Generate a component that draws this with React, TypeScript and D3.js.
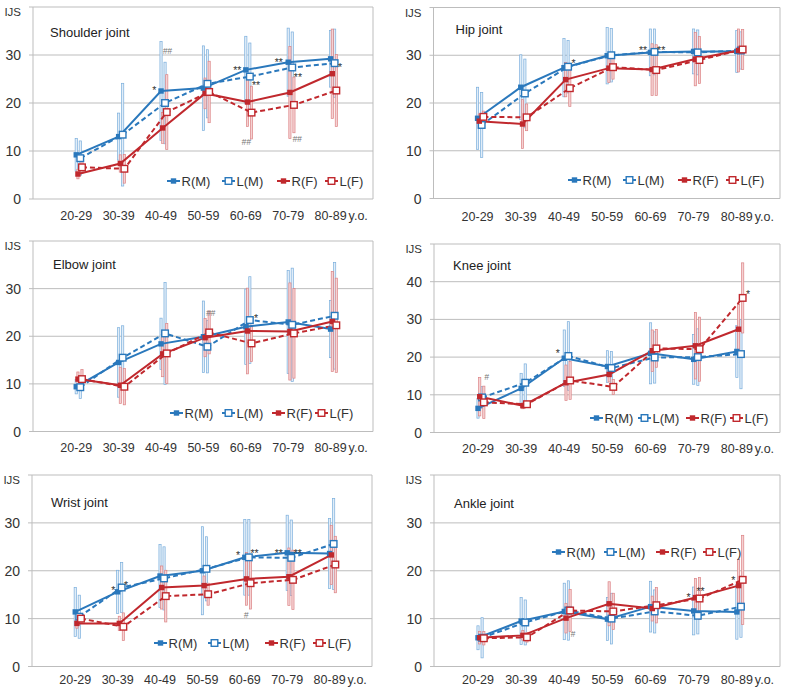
import React from "react";
import * as d3 from "d3";

const categories = ["20-29", "30-39", "40-49", "50-59", "60-69", "70-79", "80-89"];
const seriesNames = ["R(M)", "L(M)", "R(F)", "L(F)"];
const yUnitLabel = "IJS";
const ageSuffix = "y.o.";

// order: R(M), L(M), R(F), L(F)
const shoulderMeans = [
  [9.2, 13.0, 22.5, 23.1, 26.9, 28.5, 29.2],
  [8.5, 13.4, 20.0, 24.0, 25.5, 27.4, 28.3],
  [5.2, 7.4, 14.8, 22.0, 20.2, 22.2, 26.1],
  [6.6, 6.3, 18.1, 22.3, 18.0, 19.6, 22.6],
];
const shoulderSD = [
  [3.4, 4.9, 10.3, 8.8, 7.0, 7.1, 5.9],
  [3.6, 10.7, 8.5, 7.1, 7.0, 7.4, 7.1],
  [1.0, 1.8, 3.2, 3.2, 5.1, 9.6, 9.3],
  [1.2, 3.0, 7.8, 6.4, 5.5, 5.8, 7.5],
];
const hipMeans = [
  [16.8, 23.3, 27.4, 29.9, 30.6, 30.8, 30.8],
  [15.4, 22.0, 27.6, 30.0, 30.7, 30.6, 31.0],
  [16.2, 15.6, 24.9, 27.3, 27.0, 29.2, 31.0],
  [17.1, 17.0, 23.1, 27.5, 26.9, 29.0, 31.2],
];
const hipSD = [
  [6.5, 6.8, 6.1, 5.9, 4.9, 4.7, 4.4],
  [6.8, 7.2, 5.5, 5.6, 4.8, 4.7, 3.9],
  [1.5, 5.1, 3.6, 3.0, 5.4, 5.6, 4.5],
  [1.2, 2.8, 3.8, 2.5, 5.3, 4.9, 4.2],
];
const elbowMeans = [
  [9.4, 14.5, 18.4, 19.9, 22.0, 23.0, 21.5],
  [9.3, 15.5, 20.6, 17.8, 23.4, 22.4, 24.3],
  [11.0, 9.7, 16.3, 19.7, 21.1, 21.0, 23.1],
  [11.0, 9.4, 16.4, 20.8, 18.5, 20.6, 22.3],
];
const elbowSD = [
  [1.5, 7.3, 5.4, 7.5, 7.9, 10.8, 6.0],
  [2.4, 6.7, 10.7, 5.5, 9.1, 11.9, 11.2],
  [1.5, 3.8, 4.8, 4.0, 9.0, 10.2, 10.5],
  [2.0, 3.8, 6.3, 4.5, 3.8, 9.4, 9.9],
];
const kneeMeans = [
  [6.4, 11.7, 19.7, 17.5, 21.0, 19.4, 21.5],
  [9.3, 13.2, 20.3, 17.1, 19.9, 20.0, 20.8],
  [9.5, 7.1, 13.2, 15.4, 21.7, 23.0, 27.4],
  [8.0, 7.5, 13.8, 12.1, 22.3, 22.1, 35.7],
];
const kneeSD = [
  [2.6, 4.0, 7.5, 4.2, 8.1, 6.6, 6.9],
  [2.9, 5.0, 9.1, 4.4, 6.8, 7.5, 9.2],
  [5.1, 0.8, 4.7, 2.0, 5.5, 8.8, 6.6],
  [4.3, 0.8, 5.0, 2.0, 5.0, 8.5, 9.3],
];
const wristMeans = [
  [11.4, 15.6, 18.9, 20.0, 22.8, 23.75, 23.6],
  [10.4, 16.5, 18.4, 20.4, 22.8, 22.7, 25.6],
  [9.0, 9.0, 16.5, 16.9, 18.3, 18.75, 23.3],
  [10.0, 8.3, 14.7, 15.1, 17.4, 18.1, 21.3],
];
const wristSD = [
  [5.1, 4.5, 6.6, 9.2, 7.9, 7.85, 7.3],
  [4.5, 5.2, 6.6, 6.7, 7.9, 7.9, 9.5],
  [1.0, 1.5, 4.5, 2.0, 5.5, 6.0, 6.2],
  [1.0, 2.9, 5.4, 2.3, 5.4, 6.2, 5.9],
];
const ankleMeans = [
  [6.0, 9.5, 11.5, 9.9, 12.5, 11.6, 11.4],
  [6.0, 9.2, 11.7, 10.0, 11.5, 10.6, 12.5],
  [6.0, 6.5, 10.1, 13.1, 12.1, 14.4, 16.9],
  [5.9, 6.1, 11.7, 11.5, 12.8, 14.2, 18.1],
];
const ankleSD = [
  [2.5, 4.9, 5.9, 4.5, 5.3, 5.0, 5.7],
  [4.2, 4.7, 6.2, 5.3, 4.5, 3.8, 6.4],
  [1.3, 1.0, 3.1, 4.6, 2.6, 4.0, 5.5],
  [1.4, 1.0, 4.4, 3.8, 3.7, 4.4, 9.3],
];

// significance marks: [category position, IJS value, text]
const shoulderNotes: [number, number, string][] = [
  [1.84, 23.1, "*"], [2.15, 30.8, "##"], [3.8, 27.3, "**"], [4.24, 24.2, "**"],
  [4.01, 11.9, "##"], [4.78, 29.0, "**"], [5.23, 25.8, "**"], [5.21, 12.5, "##"], [6.22, 27.9, "*"],
];
const hipNotes: [number, number, string][] = [
  [2.22, 28.7, "*"], [3.83, 31.6, "**"], [4.25, 31.6, "**"],
];
const elbowNotes: [number, number, string][] = [
  [3.17, 24.9, "##"], [4.24, 24.2, "*"],
];
const kneeNotes: [number, number, string][] = [
  [0.2, 14.8, "#"], [1.85, 21.7, "*"], [6.26, 37.3, "*"],
];
const wristNotes: [number, number, string][] = [
  [0.9, 16.5, "*"], [1.2, 17.5, "*"], [3.84, 23.8, "*"], [4.23, 24.1, "**"],
  [4.8, 24.1, "**"], [5.25, 24.1, "**"], [4.03, 10.7, "#"],
];
const ankleNotes: [number, number, string][] = [
  [2.2, 6.8, "#"], [4.88, 15.0, "*"], [5.16, 16.1, "**"], [5.92, 18.4, "*"],
];

const BLUE = "#2a78bc";
const RED = "#c0282d";
const seriesStyle = [
  { color: BLUE, dash: null, filled: true, off: 0, errStroke: "#7aaedc", errFill: "#e1edf8" },
  { color: BLUE, dash: "5,3", filled: false, off: 0.095, errStroke: "#7aaedc", errFill: "#e1edf8" },
  { color: RED, dash: null, filled: true, off: 0.04, errStroke: "#dc8385", errFill: "#f5d2d3" },
  { color: RED, dash: "5,3", filled: false, off: 0.135, errStroke: "#dc8385", errFill: "#f5d2d3" },
];

const panels = [
  { title: "Shoulder joint", means: shoulderMeans, sds: shoulderSD, notes: shoulderNotes, yMax: 40,
    left: 33, right: 373, top: 7, bottom: 199, tdx: 17, tdy: 30, labelDy: 21, legendY: 181, legendXs: [167, 222, 277, 325] },
  { title: "Hip joint", means: hipMeans, sds: hipSD, notes: hipNotes, yMax: 40,
    left: 433.5, right: 780, top: 7.5, bottom: 198.5, tdx: 22, tdy: 26, labelDy: 22, legendY: 180, legendXs: [568, 623, 678, 726] },
  { title: "Elbow joint", means: elbowMeans, sds: elbowSD, notes: elbowNotes, yMax: 40,
    left: 33, right: 373, top: 241, bottom: 431.5, tdx: 20, tdy: 28, labelDy: 20, legendY: 413, legendXs: [170, 222, 272, 315] },
  { title: "Knee joint", means: kneeMeans, sds: kneeSD, notes: kneeNotes, yMax: 50,
    left: 434, right: 780, top: 244, bottom: 432.5, tdx: 19, tdy: 26, labelDy: 20.5, legendY: 418, legendXs: [590, 638, 686, 730] },
  { title: "Wrist joint", means: wristMeans, sds: wristSD, notes: wristNotes, yMax: 40,
    left: 32, right: 372, top: 475, bottom: 666.5, tdx: 19, tdy: 32, labelDy: 17.5, legendY: 643, legendXs: [154, 208, 265, 313] },
  { title: "Ankle joint", means: ankleMeans, sds: ankleSD, notes: ankleNotes, yMax: 40,
    left: 434, right: 780, top: 475, bottom: 666.5, tdx: 20, tdy: 33, labelDy: 17.5, legendY: 552, legendXs: [552, 604, 656, 703] },
];

const FONT = "'Liberation Sans', Arial, sans-serif";
const GRID = "#bdbdbd";
const TEXT = "#333";

function Marker({ cx, cy, s }: any) {
  if (s.filled) return <rect x={cx - 2.7} y={cy - 2.7} width={5.4} height={5.4} fill={s.color} />;
  return <rect x={cx - 3.3} y={cy - 3.3} width={6.6} height={6.6} fill="#fff" stroke={s.color} strokeWidth={1.4} />;
}

function Panel({ p }: any) {
  const x = d3.scaleLinear().domain([-1.02, 7.0]).range([p.left, p.right]);
  const y = d3.scaleLinear().domain([0, p.yMax]).range([p.bottom, p.top]);
  const ticks = d3.range(0, p.yMax + 1, 10);
  return (
    <g>
      {ticks.map((t) => (
        <g key={t}>
          <line x1={p.left - 4} x2={p.right} y1={y(t)} y2={y(t)} stroke={GRID} strokeWidth={1} />
          {t < p.yMax && (
            <text x={p.left - 12} y={y(t) + 5} textAnchor="end" fontSize={14} fill={TEXT}>{t}</text>
          )}
        </g>
      ))}
      <line x1={p.left} x2={p.left} y1={p.top} y2={p.bottom} stroke={GRID} />
      <line x1={p.right} x2={p.right} y1={p.top} y2={p.bottom} stroke={GRID} />
      <text x={p.left - 12} y={p.top + 9} textAnchor="end" fontSize={11.5} fill={TEXT}>{yUnitLabel}</text>
      <text x={p.left + p.tdx} y={p.top + p.tdy} fontSize={13} fill="#222">{p.title}</text>
      {categories.map((c, i) => (
        <g key={c}>
          <text x={x(i)} y={p.bottom + p.labelDy} textAnchor="middle" fontSize={12.5} fill={TEXT}>{c}</text>
          {i === categories.length - 1 && (
            <text x={x(i) + 18} y={p.bottom + p.labelDy} fontSize={12.5} fill={TEXT}>{ageSuffix}</text>
          )}
        </g>
      ))}
      {p.means.map((vals: number[], si: number) => {
        const s = seriesStyle[si];
        return vals.map((v, i) => {
          const sd = p.sds[si][i];
          const y1 = y(v + sd), y2 = y(Math.max(0, v - sd));
          return <rect key={`e${si}-${i}`} x={x(i + s.off) - 1.1} y={y1} width={2.2} height={y2 - y1}
            fill={s.errFill} stroke={s.errStroke} strokeWidth={0.7} />;
        });
      })}
      {p.means.map((vals: number[], si: number) => {
        const s = seriesStyle[si];
        const line = d3.line<number>().x((_, i) => x(i + s.off)).y((d) => y(d));
        return <path key={`l${si}`} d={line(vals) || ""} fill="none" stroke={s.color} strokeWidth={2}
          strokeDasharray={s.dash || undefined} />;
      })}
      {p.means.map((vals: number[], si: number) =>
        vals.map((v, i) => <Marker key={`m${si}-${i}`} cx={x(i + seriesStyle[si].off)} cy={y(v)} s={seriesStyle[si]} />)
      )}
      {p.notes.map((n: [number, number, string], k: number) => {
        const isHash = n[2].startsWith("#");
        const fs = isHash ? 8.5 : 10.5;
        return (
          <text key={`n${k}`} x={x(n[0])} y={y(n[1]) + (isHash ? 3 : 6)} textAnchor="middle" fontSize={fs}
            fontStyle={isHash ? "italic" : "normal"} fill={isHash ? "#777" : "#333"}>{n[2]}</text>
        );
      })}
      {seriesNames.map((name, si) => {
        const s = seriesStyle[si];
        const lx = p.legendXs[si];
        return (
          <g key={name}>
            <line x1={lx} x2={lx + 13} y1={p.legendY} y2={p.legendY} stroke={s.color} strokeWidth={2}
              strokeDasharray={s.dash ? "3,2" : undefined} />
            <Marker cx={lx + 6.5} cy={p.legendY} s={s} />
            <text x={lx + 14.5} y={p.legendY + 4.5} fontSize={13} fill={TEXT}>{name}</text>
          </g>
        );
      })}
    </g>
  );
}

export default function App() {
  return (
    <svg width={786} height={690} style={{ position: "absolute", left: 0, top: 0, background: "#fff" }}
      fontFamily={FONT}>
      <rect width={786} height={690} fill="#fff" />
      {panels.map((p) => <Panel key={p.title} p={p} />)}
    </svg>
  );
}
